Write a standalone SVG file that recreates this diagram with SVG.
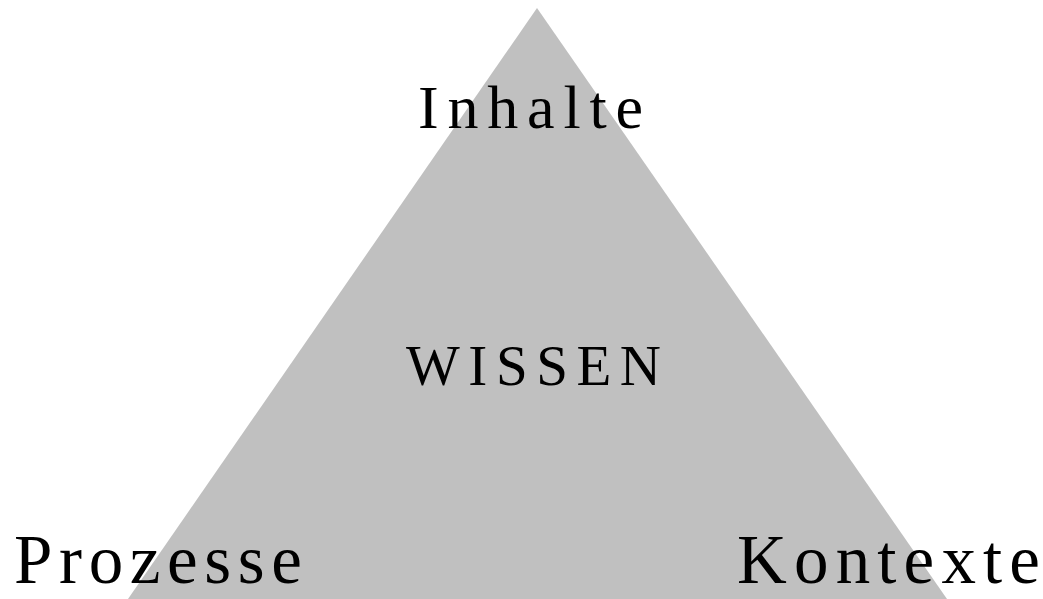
<svg xmlns="http://www.w3.org/2000/svg" width="1043" height="599" viewBox="0 0 1043 599">
<style>
.lbl{font-family:"Liberation Serif","Times New Roman",serif;fill:#000}
</style>
<rect width="1043" height="599" fill="#fff"/>
<g id="triangle"><polygon points="537,8 947,599 128,599" fill="#c0c0c0"/></g>
<g id="connectors"></g>
<g id="inhalte"><text class="lbl" x="418" y="128" font-size="62" textLength="225" lengthAdjust="spacing">Inhalte</text></g>
<g id="wissen"><text class="lbl" x="406" y="385" font-size="57" textLength="255" lengthAdjust="spacing">WISSEN</text></g>
<g id="prozesse"><text class="lbl" x="14" y="583" font-size="69" textLength="288" lengthAdjust="spacing">Prozesse</text></g>
<g id="kontexte"><text class="lbl" x="737" y="583" font-size="69" textLength="303" lengthAdjust="spacing">Kontexte</text></g>
</svg>
